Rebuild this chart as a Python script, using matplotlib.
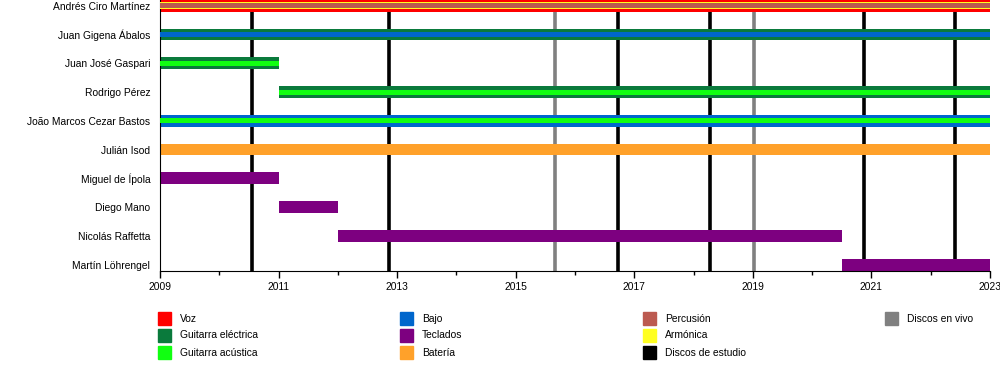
import matplotlib.pyplot as plt
from matplotlib.patches import Rectangle

plt.rcParams['font.family'] = ['Liberation Sans', 'DejaVu Sans']

# members, top to bottom
members = ["Andrés Ciro Martínez", "Juan Gigena Ábalos", "Juan José Gaspari",
           "Rodrigo Pérez", "João Marcos Cezar Bastos", "Julián Isod",
           "Miguel de Ípola", "Diego Mano", "Nicolás Raffetta", "Martín Löhrengel"]
start = [2009, 2009, 2009, 2011, 2009, 2009, 2009, 2011, 2012, 2020.5]
end = [2023, 2023, 2011, 2023, 2023, 2023, 2011, 2012, 2020.5, 2023]

# instrument layers per member (outer, middle, inner)
role_main = ["Voz", "Guitarra eléctrica", "Guitarra eléctrica", "Guitarra eléctrica",
             "Bajo", "Batería", "Teclados", "Teclados", "Teclados", "Teclados"]
role_mid = ["Armónica", None, None, None, None, None, None, None, None, None]
role_inner = ["Percusión", "Bajo", "Guitarra acústica", "Guitarra acústica",
              "Guitarra acústica", None, None, None, None, None]

studio_albums = [2010.55, 2012.86, 2016.72, 2018.28, 2020.87, 2022.41]
live_albums = [2015.66, 2019.02]

colors = {
    "Voz": "#ff0000",
    "Guitarra eléctrica": "#0a7a3c",
    "Guitarra acústica": "#11ff11",
    "Bajo": "#0066cc",
    "Teclados": "#7d0080",
    "Batería": "#ffa12a",
    "Percusión": "#bc5a50",
    "Armónica": "#ffff22",
    "Discos de estudio": "#000000",
    "Discos en vivo": "#808080",
}
legend_cols = [["Voz", "Guitarra eléctrica", "Guitarra acústica"],
               ["Bajo", "Teclados", "Batería"],
               ["Percusión", "Armónica", "Discos de estudio"],
               ["Discos en vivo"]]

fig = plt.figure(figsize=(10, 3.7), dpi=100)
ax = fig.add_axes([0.16, 0.2676, 0.83, 0.7324])

for x in studio_albums:
    ax.axvline(x, color="black", lw=2.6, zorder=1)
for x in live_albums:
    ax.axvline(x, color="#808080", lw=2.6, zorder=1)

for i in range(len(members)):
    w = end[i] - start[i]
    ax.barh(i, w, left=start[i], height=0.41, color=colors[role_main[i]], zorder=2)
    if role_mid[i]:
        ax.barh(i, w, left=start[i], height=0.23, color=colors[role_mid[i]], zorder=3)
    if role_inner[i]:
        h = 0.16 if role_mid[i] else 0.17
        ax.barh(i, w, left=start[i], height=h, color=colors[role_inner[i]], zorder=4)

ax.set_xlim(2009, 2023)
ax.set_ylim(9.22, -0.2)
ax.set_yticks(range(len(members)))
ax.set_yticklabels(members, fontsize=7.4)
ax.tick_params(axis="y", length=0, pad=7)
ax.set_xticks(range(2009, 2024, 2))
ax.set_xticks(range(2010, 2023, 2), minor=True)
ax.tick_params(axis="x", which="major", length=5, width=1, labelsize=7.4, pad=3)
ax.tick_params(axis="x", which="minor", length=3, width=1)
ax.spines["top"].set_visible(False)
ax.spines["right"].set_visible(False)

# legend drawn by hand to keep the column layout
col_x = [158, 400, 643, 885]
row_y = [312, 329, 346]
for c in range(len(col_x)):
    for r, name in enumerate(legend_cols[c]):
        x0 = col_x[c] / 1000
        y0 = 1 - (row_y[r] + 13) / 370
        fig.add_artist(Rectangle((x0, y0), 13 / 1000, 13 / 370,
                                 transform=fig.transFigure, color=colors[name]))
        fig.text(x0 + 22 / 1000, y0 + 6.5 / 370, name, fontsize=7.4, va="center")

fig.savefig("out.png", dpi=100)
